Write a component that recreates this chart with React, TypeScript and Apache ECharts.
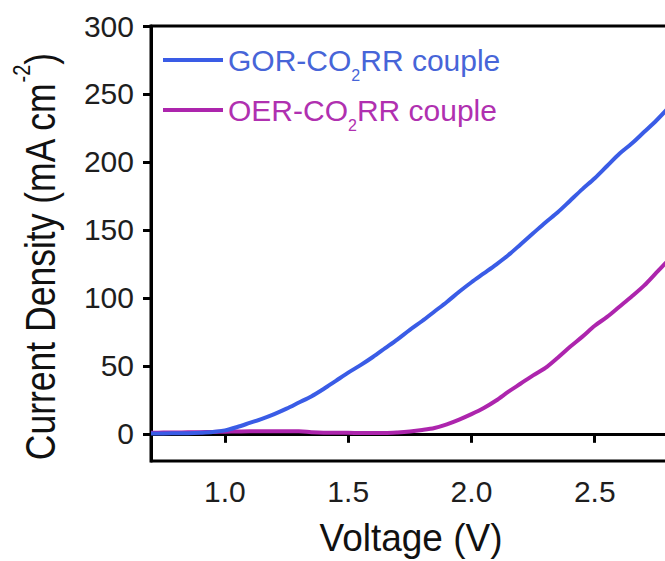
import React, { useEffect, useRef } from "react";
import * as echarts from "echarts";

// Cell voltage (V) sampled along the polarization curves
const voltage = [
  0.7, 0.75, 0.8, 0.85, 0.9, 0.95, 1.0, 1.05, 1.1, 1.15, 1.2, 1.25, 1.3, 1.35,
  1.4, 1.45, 1.5, 1.55, 1.6, 1.65, 1.7, 1.75, 1.8, 1.85, 1.9, 1.95, 2.0, 2.05,
  2.1, 2.15, 2.2, 2.25, 2.3, 2.35, 2.4, 2.45, 2.5, 2.55, 2.6, 2.65, 2.7, 2.75,
  2.8,
];

// Current density (mA cm^-2), GOR-CO2RR couple
const gorCurrent = [
  0.3, 0.3, 0.4, 0.5, 0.8, 1.3, 2.5, 5, 8, 11, 14.5, 18.5, 23, 27.5, 33, 39, 45,
  50.5, 56.5, 63, 69.5, 76.5, 83, 90, 97, 104.5, 111.5, 118, 124.5, 131.5, 139.5,
  147.5, 155.5, 163, 171.5, 180, 188, 197, 206, 213.5, 222, 230.5, 240,
];

// Current density (mA cm^-2), OER-CO2RR couple
const oerCurrent = [
  0.8, 0.9, 1.0, 1.1, 1.2, 1.4, 1.6, 1.7, 1.8, 1.8, 1.8, 1.8, 1.8, 1.2, 0.8,
  0.7, 0.7, 0.6, 0.6, 0.6, 1.0, 1.7, 2.8, 4.3, 7, 10.5, 14.5, 19, 24.5, 31, 37,
  43, 48.5, 56, 64, 71.5, 79.5, 86, 93.5, 101, 109, 118.5, 128,
];

const xTicks = [1.0, 1.5, 2.0, 2.5];
const yTicks = [0, 50, 100, 150, 200, 250, 300];

const seriesNames = ["GOR-CO2RR couple", "OER-CO2RR couple"];
const legendLabels = ["GOR-CO{sub|2}RR couple", "OER-CO{sub|2}RR couple"];

const FONT = "'Liberation Sans', Arial, Helvetica, sans-serif";
const BLUE = "#3a5ce6";
const PURPLE = "#ad25ad";

// The plot frame runs on past the right edge of the visible area.
const VIEW_W = 665;
const VIEW_H = 561;
const CHART_W = 718;

export default function App() {
  const ref = useRef<HTMLDivElement>(null);

  useEffect(() => {
    if (!ref.current) return;
    const chart = echarts.init(ref.current, null, { renderer: "svg" });

    const gorData = voltage.map((v, i) => [v, gorCurrent[i]]);
    const oerData = voltage.map((v, i) => [v, oerCurrent[i]]);

    chart.setOption({
      animation: false,
      backgroundColor: "#ffffff",
      grid: {
        left: 151,
        top: 26,
        right: 0,
        bottom: 100,
        outerBoundsMode: "none",
        containLabel: false,
        show: true,
        borderColor: "#000",
        borderWidth: 3,
        backgroundColor: "transparent",
      },
      legend: {
        orient: "vertical",
        left: 158,
        top: 38,
        icon: "rect",
        itemWidth: 60,
        itemHeight: 4,
        itemGap: 10,
        data: [
          { name: seriesNames[0], textStyle: { color: "#4765d8" } },
          { name: seriesNames[1], textStyle: { color: "#b030b0" } },
        ],
        formatter: (name: string) => legendLabels[seriesNames.indexOf(name)],
        textStyle: {
          fontFamily: FONT,
          fontSize: 30,
          lineHeight: 34,
          rich: {
            sub: {
              fontFamily: FONT,
              fontSize: 16,
              lineHeight: 34,
              verticalAlign: "top",
              padding: [24, 0, 0, 0],
            },
          },
        },
      },
      xAxis: {
        type: "value",
        min: 0.7,
        max: 3.0,
        splitLine: { show: false },
        axisLine: { show: true, lineStyle: { color: "#000", width: 3 } },
        axisTick: {
          show: true,
          customValues: xTicks,
          length: 9,
          lineStyle: { color: "#000", width: 3 },
        },
        axisLabel: {
          customValues: xTicks,
          formatter: (v: number) => v.toFixed(1),
          fontFamily: FONT,
          fontSize: 30,
          color: "#1e1e1e",
          margin: 15,
        },
      },
      yAxis: {
        type: "value",
        min: -20,
        max: 300,
        splitLine: { show: false },
        axisLine: { show: true, lineStyle: { color: "#000", width: 3 } },
        axisTick: {
          show: true,
          customValues: yTicks,
          length: 8,
          lineStyle: { color: "#000", width: 3 },
        },
        axisLabel: {
          customValues: yTicks,
          fontFamily: FONT,
          fontSize: 30,
          color: "#1e1e1e",
          margin: 17,
        },
      },
      graphic: [
        {
          type: "text",
          x: 411,
          y: 537,
          scaleY: 1.07,
          style: {
            text: "Voltage (V)",
            x: 0,
            y: 0,
            align: "center",
            verticalAlign: "middle",
            textAlign: "center",
            textVerticalAlign: "middle",
            fontFamily: FONT,
            fontSize: 37,
            fill: "#111",
          },
        },
        {
          type: "text",
          x: 40,
          y: 257,
          rotation: Math.PI / 2,
          scaleY: 1.2,
          style: {
            text: "Current Density (mA cm{sup|-2})",
            x: 0,
            y: 0,
            align: "center",
            verticalAlign: "middle",
            textAlign: "center",
            textVerticalAlign: "middle",
            fontFamily: FONT,
            fontSize: 35.5,
            lineHeight: 50,
            fill: "#111",
            rich: {
              sup: {
                fontFamily: FONT,
                fontSize: 20,
                lineHeight: 50,
                verticalAlign: "top",
                fill: "#111",
              },
            },
          },
        },
      ],
      series: [
        {
          name: seriesNames[1],
          type: "line",
          data: oerData,
          symbol: "none",
          smooth: 0.3,
          z: 2,
          color: PURPLE,
          lineStyle: { color: PURPLE, width: 4 },
        },
        {
          name: seriesNames[0],
          type: "line",
          data: gorData,
          symbol: "none",
          smooth: 0.3,
          z: 3,
          color: BLUE,
          lineStyle: { color: BLUE, width: 4 },
        },
      ],
    });

    return () => chart.dispose();
  }, []);

  return (
    <div
      style={{
        position: "absolute",
        left: 0,
        top: 0,
        width: VIEW_W,
        height: VIEW_H,
        overflow: "hidden",
        background: "#fff",
      }}
    >
      <div ref={ref} style={{ width: CHART_W, height: VIEW_H }} />
    </div>
  );
}
